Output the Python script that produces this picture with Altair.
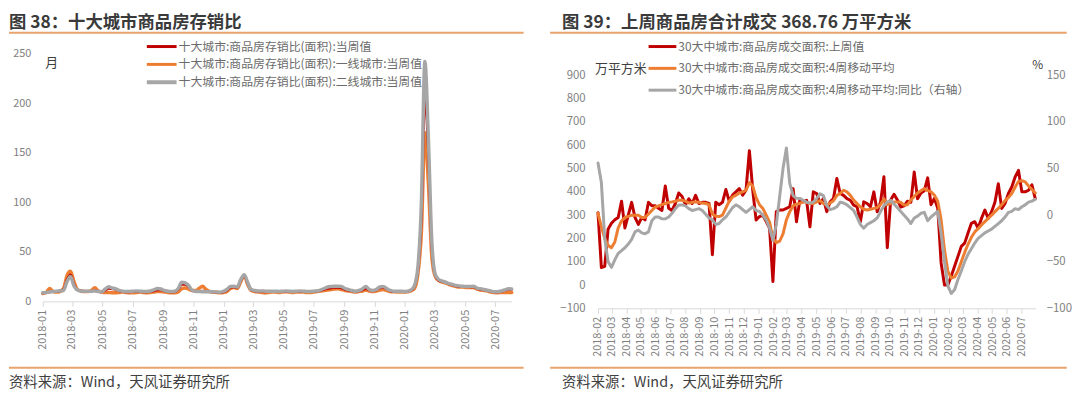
import altair as alt
import pandas as pd

FONT = "Noto Sans CJK SC"
RED = "#c00000"
ORANGE = "#ed7d31"
GRAY = "#a6a6a6"
LINE_COL = "#e8a46c"
AX_COL = "#7f7f7f"

# ---------------- data: left chart (weekly, from 2018-01-01) ----------------
left_start = "2018-01-01"
left_names = ["十大城市:商品房存销比(面积):当周值",
              "十大城市:商品房存销比(面积):一线城市:当周值",
              "十大城市:商品房存销比(面积):二线城市:当周值"]
red_left = [8.5, 9, 9.5, 10, 10, 10.5, 12, 22, 27, 17,
            11.5, 10.5, 10, 10, 10, 11, 10, 9.5, 11, 13,
            12.5, 12, 10.5, 10, 9.5, 9.5, 10, 10, 9.7, 9.5,
            9.5, 10, 10.5, 11.5, 11.5, 10.5, 9.7, 9.5, 9.5, 12,
            17, 17, 15, 11, 10, 10, 10.5, 10, 9.7, 9.5,
            9.3, 9, 9.5, 11, 14, 14.5, 14, 21, 26, 18,
            12, 10.5, 10, 10, 9.5, 9.7, 10, 10, 9.7, 10,
            10.3, 10, 9.7, 10, 10, 10, 9.7, 9.7, 10, 10.3,
            11, 12, 13, 13.5, 14, 14, 13.5, 12, 11, 10.5,
            10, 10.5, 11.5, 13, 11.5, 10.5, 11.5, 13.5, 14, 12.5,
            10.5, 10, 10, 10, 9.7, 10, 11, 15, 32, 85,
            205, 150, 55, 26, 21, 20, 19, 17.5, 16.5, 15.5,
            15, 15, 14.7, 14.5, 14.5, 13, 12, 11.5, 11, 10,
            9.5, 9.5, 10, 11, 12, 12]
orange_left = [8, 9, 13, 10, 9.5, 10, 13, 26, 30.3, 20,
               12, 10.5, 10, 10, 11, 13.7, 10.5, 9.5, 9, 9,
               8.7, 8.7, 9, 9.5, 9, 8.7, 8.7, 9, 9.5, 9,
               8.7, 9, 9.5, 10, 10, 9.5, 9, 8.7, 8.7, 9.5,
               12.7, 13.5, 12.5, 11, 11, 13, 15.3, 12, 10, 9.5,
               9, 8.7, 9, 10, 13, 14, 13, 20, 26, 17,
               11, 10, 9.5, 9, 8.7, 9, 9.5, 9.5, 9, 9.5,
               9.7, 9.5, 9, 9.5, 9.5, 9.5, 9, 9, 9.5, 10,
               10.5, 11, 11.5, 12, 12.5, 12.7, 12, 11, 10.5, 10,
               9.5, 10, 10.5, 11.5, 10.5, 10, 10.5, 11.5, 12, 11,
               10, 9.7, 9.5, 9.5, 9.5, 9.7, 10.5, 13, 28, 70,
               170, 120, 45, 25, 21, 19.5, 18.5, 17, 16, 15,
               14.5, 14.5, 14, 14, 14, 12.5, 11.5, 11, 10.5, 9.5,
               9, 8.7, 9, 9, 9, 9]
gray_left = [8.7, 9, 9.5, 10, 10.3, 10.5, 11, 20, 25, 15.5,
             11.5, 10.5, 10.3, 10.3, 10.3, 10.5, 10, 9.7, 12.5, 14.7,
             13.5, 12.7, 11, 10.3, 10, 10, 10.3, 10.5, 10.3, 10,
             10, 10.5, 11.5, 13, 12.5, 11, 10.3, 10, 10.3, 13,
             19.3, 18.7, 16, 11.3, 10.3, 10, 9.7, 9.7, 9.7, 9.7,
             9.5, 9.3, 10, 12, 15, 15.3, 14.5, 22, 27, 19,
             12, 11, 10.5, 10.5, 10.3, 10.3, 10.3, 10.3, 10, 10.3,
             10.5, 10.3, 10, 10.3, 10.5, 10.3, 10, 10, 10.3, 10.5,
             11.5, 13, 14.5, 15, 15.3, 15.3, 15, 13, 12, 11,
             10.3, 11, 12.5, 15, 12, 11, 12, 14.5, 15, 13,
             11, 10.3, 10.3, 10.3, 10, 10.3, 11.5, 16, 35, 100,
             242, 165, 60, 27, 22, 20.5, 19.3, 18, 17, 16,
             15.5, 15.3, 15, 15, 15.3, 13.5, 12.7, 12, 11.3, 10.5,
             9.7, 9.7, 10.5, 11.5, 12.7, 12.5]
left_y_ticks = [0, 50, 100, 150, 200, 250]

# ---------------- data: right chart (weekly, from 2018-02-04) ----------------
right_start = "2018-02-04"
right_names = ["30大中城市:商品房成交面积:上周值",
               "30大中城市:商品房成交面积:4周移动平均",
               "30大中城市:商品房成交面积:4周移动平均:同比（右轴）"]
red_right = [310, 75, 80, 240, 265, 280, 290, 360, 245, 300,
             355, 290, 260, 290, 280, 355, 340, 340, 330, 320,
             425, 330, 320, 350, 395, 380, 345, 370, 350, 385,
             350, 355, 355, 350, 130, 355, 345, 355, 410, 360,
             386, 400, 414, 386, 407, 577, 407, 279, 294, 300,
             272, 244, 15, 315, 322, 322, 329, 336, 414, 272,
             364, 357, 364, 250, 400, 393, 350, 371, 315, 357,
             371, 457, 393, 385, 371, 364, 343, 336, 272, 357,
             350, 336, 400, 315, 357, 465, 160, 365, 390, 365,
             335, 340, 360, 355, 485, 370, 395, 405, 460, 345,
             372, 329, 95, 0, 0, 38, 81, 123, 166, 180,
             223, 265, 272, 244, 286, 322, 286, 315, 355, 435,
             329, 350, 393, 421, 464, 492, 400, 400, 407, 430,
             370]
orange_right = [308, 250, 200, 170, 160, 185, 245, 275, 290, 295,
                300, 300, 300, 290, 290, 305, 320, 335, 340, 345,
                350, 355, 357, 360, 364, 364, 360, 352, 355, 357,
                355, 352, 350, 345, 305, 295, 294, 300, 330, 360,
                378, 386, 395, 400, 407, 440, 425, 375, 345, 329,
                300, 270, 200, 182, 188, 220, 280, 315, 340, 348,
                350, 357, 355, 350, 350, 357, 362, 350, 343, 352,
                362, 385, 393, 407, 400, 385, 365, 350, 335, 325,
                322, 325, 329, 332, 345, 370, 345, 350, 357, 357,
                355, 343, 345, 365, 380, 395, 405, 414, 405, 400,
                386, 360, 280, 150, 60, 30, 35, 60, 100, 140,
                175, 205, 228, 242, 258, 272, 286, 300, 315, 329,
                345, 362, 375, 393, 420, 445, 448, 443, 425, 410,
                395]
gray_right = [56, 35, -25, -50, -56, -48, -41, -38, -35, -31,
              -26, -18, -16, -19, -20, -18, -6, -2, -2, -4,
              -4, -2, 2, 7, 11, 11, 10, 7, 5, 6,
              7, 5, 1, -3, -5, -10, -9, -5, -2, 3,
              8, 11, 9, 6, 3, 6, 9, 5, 4, 0,
              -5, -14, -27, -10, 20, 50, 72, 34, 21, 18,
              18, 16, 14, 13, 14, 18, 23, 21, 10, 6,
              7, 9, 14, 13, 11, 8, 5, -2, -10, -14,
              -10, -8, -6, -3, 4, 10, 14, 16, 12, 8,
              4, 0, -4, -9, -3, -1, 2, 3, -6, -2,
              1, 4, -20, -50, -76, -84, -80, -69, -60, -50,
              -42, -36, -30, -25, -22, -19, -17, -15, -12, -9,
              -6, -2, 3, 4, 7, 6, 9, 11, 14, 15,
              17]
right_y_ticks = [-100, 0, 100, 200, 300, 400, 500, 600, 700, 800, 900]
right_y2_ticks = [-100, -50, 0, 50, 100, 150]

title_left = "图 38：十大城市商品房存销比"
title_right = "图 39：上周商品房合计成交 368.76 万平方米"
source_text = "资料来源：Wind，天风证券研究所"


def weekly(start, values):
    return pd.DataFrame({"date": pd.date_range(start, periods=len(values), freq="7D"),
                         "v": values})


def dt(y, m, d):
    return alt.DateTime(year=y, month=m, date=d)


def text_at(t, x, y, size=12, color="#666666", weight="normal", align="left"):
    return alt.Chart(pd.DataFrame({"t": [t]})).mark_text(
        align=align, baseline="middle", fontSize=size, font=FONT,
        color=color, fontWeight=weight
    ).encode(x=alt.value(x), y=alt.value(y), text="t:N")


def hline(x1, x2, y, color, width):
    return alt.Chart(pd.DataFrame({"a": [0]})).mark_rule(
        color=color, strokeWidth=width
    ).encode(x=alt.value(x1), x2=alt.value(x2), y=alt.value(y))


TITLE_Y = -31
SEP_Y = -21

# ---------------- left chart ----------------
WL, HL = 473, 250
xL = alt.X("date:T", title=None,
           scale=alt.Scale(domain=[dt(2018, 1, 1), dt(2020, 8, 3)], nice=False),
           axis=alt.Axis(values=[dt(2018 + (m // 12), m % 12 + 1, 1) for m in range(0, 31, 2)],
                         format="%Y-%m", labelAngle=270, labelFont=FONT, labelFontSize=11,
                         labelColor=AX_COL, domainColor="#d9d9d9", tickColor="#d9d9d9",
                         tickSize=5, labelPadding=3, grid=False, labelOverlap=False,
                         labelFlush=False))
yL = alt.Y("v:Q", title=None,
           scale=alt.Scale(domain=[0, 250], nice=False),
           axis=alt.Axis(values=left_y_ticks, labelFont=FONT, labelFontSize=11,
                         labelColor=AX_COL, domain=False, ticks=False, tickSize=0,
                         labelPadding=12, grid=False, labelFlush=False))


def left_line(vals, color, width):
    return alt.Chart(weekly(left_start, vals)).mark_line(
        color=color, strokeWidth=width, interpolate="monotone",
        strokeJoin="round", strokeCap="round"
    ).encode(x=xL, y=yL)


left_layers = [
    left_line(orange_left, ORANGE, 3.5),
    left_line(red_left, RED, 2.5),
    left_line(gray_left, GRAY, 3.5),
]
leg_cols = [RED, ORANGE, GRAY]
leg_w = [3, 3, 4]
for k, (nm, col) in enumerate(zip(left_names, leg_cols)):
    yy = -7 + 18 * k
    left_layers.append(hline(105, 135, yy, col, leg_w[k]))
    left_layers.append(text_at(nm, 137, yy, 12, "#6b6b6b"))
left_layers += [
    text_at("月", 9, 10, 13, "#404040", align="center"),
    text_at(title_left, -34, TITLE_Y, 17.5, "#3a3a3a", "bold"),
    hline(-34, 485, SEP_Y, LINE_COL, 2),
    hline(-34, 485, 317, LINE_COL, 2),
    text_at(source_text, -34, 332, 14.5, "#404040"),
]
left = alt.layer(*left_layers).properties(width=WL, height=HL)

# ---------------- right chart ----------------
# plot area top aligned with the left panel; axes show only -100..900 / -100..150
WR, HR = 441, 257
xR = alt.X("date:T", title=None,
           scale=alt.Scale(domain=[dt(2018, 2, 4), dt(2020, 8, 2)], nice=False),
           axis=alt.Axis(values=[dt(2018 + ((m + 1) // 12), (m + 1) % 12 + 1, 4) for m in range(30)],
                         format="%Y-%m", labelAngle=270, labelFont=FONT, labelFontSize=11,
                         labelColor=AX_COL, domainColor="#d9d9d9", tickColor="#d9d9d9",
                         tickSize=5, labelPadding=3, grid=False, labelOverlap=False,
                         labelFlush=False))
yR = alt.Y("v:Q", title=None,
           scale=alt.Scale(domain=[-100, 994], nice=False, zero=False),
           axis=alt.Axis(values=right_y_ticks, labelFont=FONT, labelFontSize=11.5,
                         labelColor=AX_COL, domain=False, ticks=False, tickSize=0,
                         labelPadding=13, grid=False, labelFlush=False, orient="left"))
yR2 = alt.Y("v:Q", title=None,
            scale=alt.Scale(domain=[-100, 173.5], nice=False, zero=False),
            axis=alt.Axis(values=right_y2_ticks, labelFont=FONT, labelFontSize=11.5,
                          labelColor=AX_COL, domain=False, ticks=False, tickSize=0,
                          labelPadding=11, grid=False, labelFlush=False, orient="right"))


def right_line(vals, color, width, y):
    return alt.Chart(weekly(right_start, vals)).mark_line(
        color=color, strokeWidth=width, strokeJoin="round", strokeCap="round"
    ).encode(x=xR, y=y)


right_main = alt.layer(right_line(red_right, RED, 3, yR),
                       right_line(orange_right, ORANGE, 3, yR))
right_sec = right_line(gray_right, GRAY, 3, yR2)

decor = []
for k, (nm, col) in enumerate(zip(right_names, leg_cols)):
    yy = -7 + 22 * k
    decor.append(hline(51, 79, yy, col, 3))
    decor.append(text_at(nm, 81, yy, 12, "#6b6b6b"))
decor += [
    text_at("万平方米", -3, 16, 13, "#404040"),
    text_at("%", 438, 12, 12, "#404040"),
    text_at(title_right, -36.3, TITLE_Y, 17.5, "#3a3a3a", "bold"),
    hline(-48.3, 472.7, SEP_Y, LINE_COL, 2),
    hline(-48.3, 472.7, 317, LINE_COL, 2),
    text_at(source_text, -36.3, 332, 14.5, "#404040"),
]
right = alt.layer(right_main, right_sec, *decor).resolve_scale(y="independent").properties(
    width=WR, height=HR)

chart = alt.hconcat(left, right, spacing=24).properties(
    padding={"left": 0, "top": 4.25, "right": 0, "bottom": 0},
    background="white",
).configure_view(stroke=None)

chart.save("out.html", embed_options={"renderer": "svg", "actions": False})
